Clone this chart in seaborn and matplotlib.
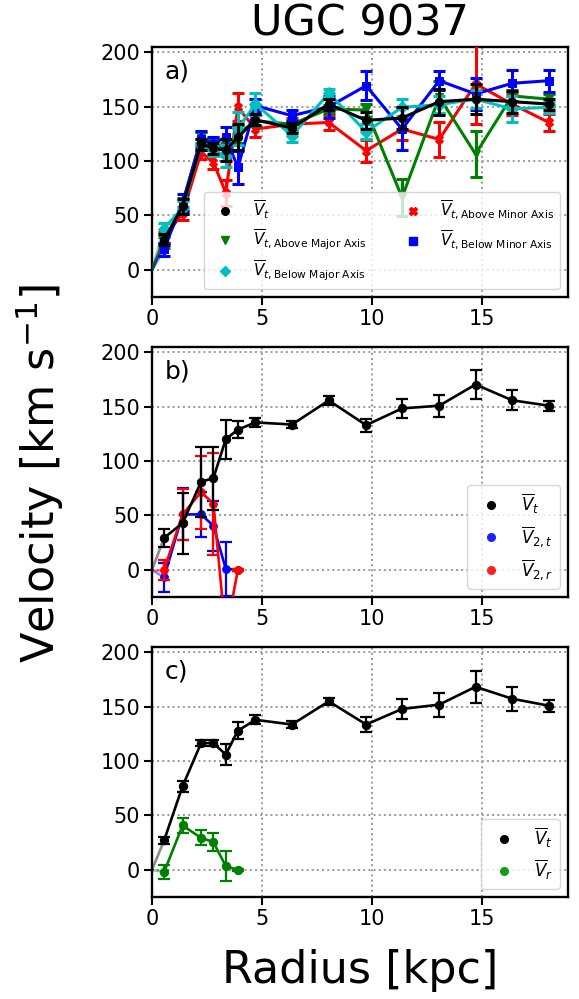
import numpy as np
import pandas as pd
import matplotlib
matplotlib.use("Agg")
import matplotlib.pyplot as plt
from matplotlib.lines import Line2D
import seaborn as sns

# ---------------- data ----------------
radius = [0.55, 1.39, 2.23, 2.79, 3.35, 3.9, 4.7, 6.36, 8.03, 9.73, 11.36, 13.05, 14.7, 16.36, 18.03]
radius_inner = [0.55, 1.39, 2.23, 2.79, 3.35, 3.9]

# panel a
a_vt = [27.6, 58.6, 115.7, 112, 110, 122, 138, 130.5, 152.5, 137.5, 139.7, 154.7, 157, 154.7, 152.5]
a_vt_err = [5, 7, 5, 5, 10, 12, 5, 5, 5, 8, 10, 12, 14, 10, 5]
a_above_major = [25, 60, 121.8, 116, 111, 125, 137, 134, 148, 147, 66.6, 159, 106.5, 160, 157]
a_above_major_err = [5, 6, 5, 5, 6, 8, 5, 4, 4, 6, 17, 15, 21, 5, 5]
a_below_major = [38, 57, 115, 110, 105, 130, 152.5, 123.4, 162.4, 127, 149.5, 152, 157, 148, 149.5]
a_below_major_err = [5, 6, 5, 5, 10, 15, 10, 6, 4, 7, 8, 8, 8, 12, 5]
a_above_minor = [29.7, 52, 108, 98.8, 71, 149.5, 129.5, 134, 135.6, 109.6, 129.5, 120, 171, 152.5, 135.6]
a_above_minor_err = [5, 6, 6, 6, 12, 13, 7, 6, 7, 10, 10, 16, 37, 10, 8]
a_below_minor = [19, 62, 120, 116, 122, 94.2, 151, 141.8, 150, 169.4, 129.5, 174, 161.8, 171.6, 174]
a_below_minor_err = [6, 8, 8, 6, 9, 15, 6, 5, 10, 13.5, 19, 9, 15, 12, 10]

# panel b
b_vt = [29.4, 43, 81, 84.4, 120, 129, 135.6, 133.7, 155.8, 133.1, 148.5, 151, 170.5, 156, 151]
b_vt_err = [8, 28, 32, 29, 18, 7.5, 4, 3, 4, 6, 8.5, 10, 13.5, 9, 4.5]
b_v2t = [-7, 51, 51, 40.5, 1, 0]
b_v2t_err = [13, 24, 21, 23, 25, 1]
b_v2r = [0, 51, 71.5, 60.8, -60, 0]
b_v2r_err = [9, 23.5, 33.5, 47, 20, 1]

# panel c
c_vt = [27, 77, 116.6, 116.6, 106, 128, 138, 133.7, 155, 133.7, 148, 152, 168.4, 157.4, 151]
c_vt_err = [3, 5, 2.5, 2.5, 9.5, 8, 4, 3, 3.5, 6.5, 9.5, 11, 14.5, 11, 5.5]
c_vr = [-2, 40.8, 29.4, 25.5, 3.4, 0]
c_vr_err = [6, 6.5, 7, 8, 14, 1]

title = "UGC 9037"
xticks = [0, 5, 10, 15]
yticks = [0, 50, 100, 150, 200]

# colours
K, G, C, R, B = '#000000', '#008000', '#00bfbf', '#ff0000', '#0000ff'

# ---------------- style ----------------
sns.set_theme(style="ticks")
plt.rcParams['font.family'] = ['DejaVu Sans']
plt.rcParams['mathtext.fontset'] = 'dejavusans'
plt.rcParams['text.color'] = 'black'
plt.rcParams['axes.labelcolor'] = 'black'
plt.rcParams['xtick.color'] = 'black'
plt.rcParams['ytick.color'] = 'black'

fig = plt.figure(figsize=(5.79, 9.99), dpi=100)
L, W, H = 152 / 579, 416 / 579, 250 / 999
axes = [fig.add_axes([L, 1 - 297 / 999, W, H]),
        fig.add_axes([L, 1 - 597 / 999, W, H]),
        fig.add_axes([L, 1 - 897 / 999, W, H])]


def series(ax, x, y, err, color, marker, lw, ms, elw, cap, z):
    df = pd.DataFrame({"r": x, "v": y})
    sns.lineplot(data=df, x="r", y="v", ax=ax, color=color, linewidth=lw, marker=marker,
                 markersize=ms, markeredgecolor=color, sort=False, zorder=z, legend=False)
    ax.errorbar(x, y, yerr=err, fmt='none', ecolor=color, elinewidth=elw,
                capsize=cap, capthick=elw, zorder=z)
    # faint segment from the origin to the first point
    seg = pd.DataFrame({"r": [0, x[0]], "v": [0, y[0]]})
    sns.lineplot(data=seg, x="r", y="v", ax=ax, color=color, linewidth=lw, alpha=0.45,
                 sort=False, zorder=z - 0.5, legend=False)


# panel a
ax = axes[0]
series(ax, radius, a_above_minor, a_above_minor_err, R, 'X', 2.2, 6, 2.2, 4.5, 3)
series(ax, radius, a_above_major, a_above_major_err, G, 'v', 2.2, 6, 2.2, 4.5, 3.1)
series(ax, radius, a_below_minor, a_below_minor_err, B, 's', 2.2, 6, 2.2, 4.5, 3.2)
series(ax, radius, a_below_major, a_below_major_err, C, 'D', 2.2, 6, 2.2, 4.5, 3.3)
series(ax, radius, a_vt, a_vt_err, K, 'o', 2.2, 6, 2.2, 4.5, 3.4)

# panel b
ax = axes[1]
series(ax, radius_inner, b_v2t, b_v2t_err, B, 'o', 1.9, 5.5, 1.6, 4.5, 3)
series(ax, radius_inner, b_v2r, b_v2r_err, R, 'o', 1.9, 5.5, 1.6, 4.5, 3.1)
series(ax, radius, b_vt, b_vt_err, K, 'o', 1.9, 6, 1.6, 4.5, 3.2)

# panel c
ax = axes[2]
series(ax, radius_inner, c_vr, c_vr_err, G, 'o', 1.9, 6, 1.6, 4.5, 3)
series(ax, radius, c_vt, c_vt_err, K, 'o', 1.9, 6, 1.6, 4.5, 3.1)

for ax, lab in zip(axes, ['a)', 'b)', 'c)']):
    ax.set_xlim(0, 18.9)
    ax.set_ylim(-25, 205)
    ax.set_xticks(xticks)
    ax.set_yticks(yticks)
    ax.set_xlabel('')
    ax.set_ylabel('')
    ax.grid(True, linestyle=':', color='#999999', lw=1.4)
    ax.set_axisbelow(True)
    ax.tick_params(labelsize=15, direction='out', length=5.5, width=1.5, pad=3,
                   colors='black')
    for s in ax.spines.values():
        s.set_visible(True)
        s.set_color('black')
        s.set_linewidth(1.7)
    ax.set_facecolor('white')
    ax.text(0.03, 0.9, lab, transform=ax.transAxes, fontsize=18, va='center', ha='left')


def handle(color, marker, ms=5.5):
    return Line2D([], [], linestyle='none', marker=marker, color=color, markersize=ms)


axes[0].legend([handle(K, 'o'), handle(G, 'v'), handle(C, 'D'),
                handle(R, 'X'), handle(B, 's')],
               [r'$\overline{V}_t$', r'$\overline{V}_{t,\mathrm{Above\ Major\ Axis}}$',
                r'$\overline{V}_{t,\mathrm{Below\ Major\ Axis}}$',
                r'$\overline{V}_{t,\mathrm{Above\ Minor\ Axis}}$',
                r'$\overline{V}_{t,\mathrm{Below\ Minor\ Axis}}$'],
               ncol=2, loc='lower right', fontsize=11, framealpha=0.8, edgecolor='0.8',
               labelspacing=0.45, fancybox=True).set_zorder(10)
axes[1].legend([handle(K, 'o'), handle('#2020ff', 'o'), handle('#ff2020', 'o')],
               [r'$\overline{V}_t$', r'$\overline{V}_{2,t}$', r'$\overline{V}_{2,r}$'],
               loc='lower right', fontsize=12, framealpha=0.8, edgecolor='0.8').set_zorder(10)
axes[2].legend([handle(K, 'o'), handle('#1a9a1a', 'o')],
               [r'$\overline{V}_t$', r'$\overline{V}_r$'],
               loc='lower right', fontsize=12, framealpha=0.8, edgecolor='0.8').set_zorder(10)

fig.text(360 / 579, 1 - 36 / 999, title, fontsize=31, ha='center', va='baseline')
fig.text(40 / 579, 1 - 473 / 999, r'Velocity [km s$^{-1}$]', fontsize=32,
         rotation=90, ha='center', va='center')
fig.text(360 / 579, 1 - 970 / 999, 'Radius [kpc]', fontsize=32, ha='center', va='center')

fig.savefig('out.png', dpi=100, facecolor='white')
